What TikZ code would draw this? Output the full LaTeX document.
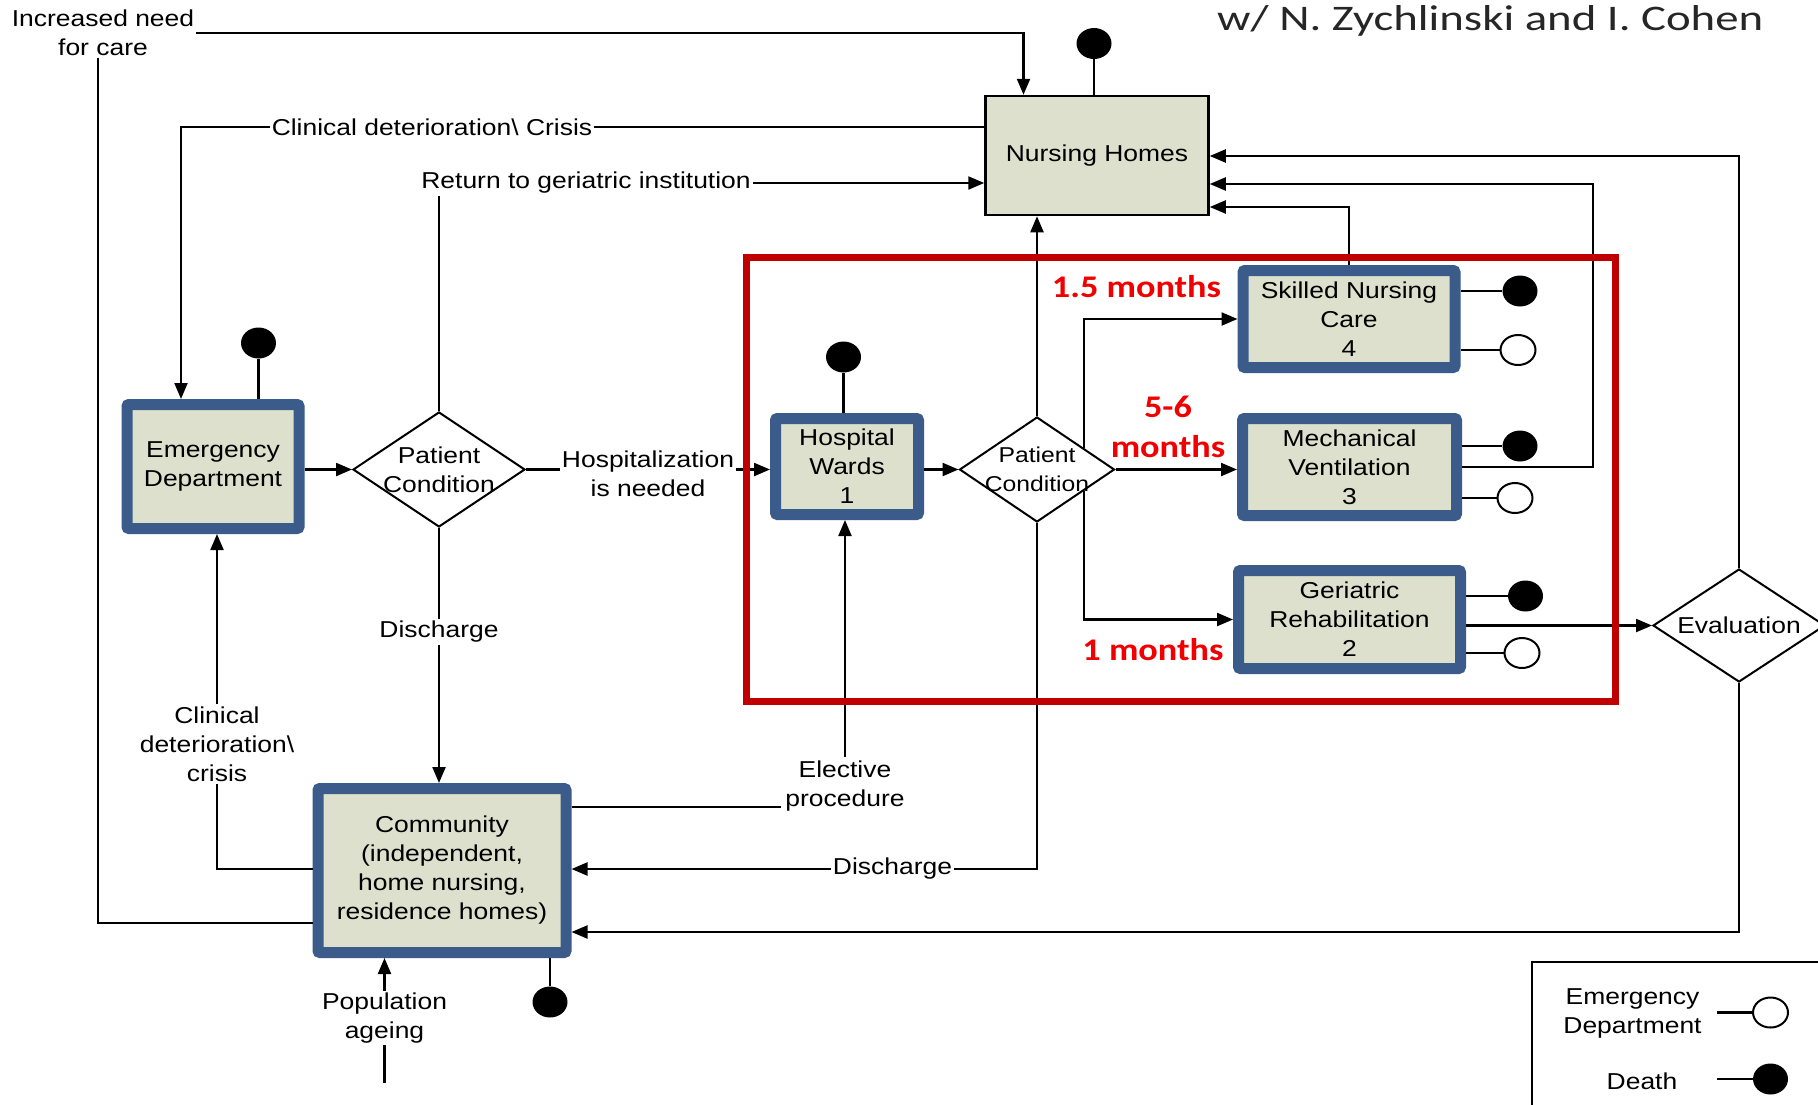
\documentclass[tikz,border=0pt]{standalone}
\usepackage{fontspec}
\setmainfont{Liberation Sans}[FakeStretch=1.15]
\newfontfamily\calib{Carlito}[FakeStretch=1.15]
\newfontfamily\calibt{Carlito}[FakeStretch=1.3]
\usetikzlibrary{arrows.meta,shapes.geometric}
\definecolor{boxblue}{RGB}{59,92,138}
\definecolor{boxfill}{RGB}{221,224,204}
\definecolor{framered}{RGB}{192,0,0}
\definecolor{monthred}{RGB}{240,0,0}
\newcommand\dfont{\fontsize{23}{29}\selectfont}

\begin{document}
\begin{tikzpicture}[x=1pt,y=-1pt,
  conn/.style={line width=2.2pt, draw=black},
  arr/.style={conn, -{Triangle[length=16pt,width=13pt]}},
  txt/.style={font=\dfont, align=center, inner sep=2pt},
  bluebox/.style={draw=boxblue, line width=11pt, fill=boxfill, rounded corners=2pt,
    inner sep=0pt, align=center, font=\dfont},
  plainbox/.style={draw=black, line width=2.5pt, fill=boxfill, inner sep=0pt, font=\dfont},
  decision/.style={diamond, draw=black, line width=2pt, fill=white, inner sep=0pt},
  death/.style={ellipse, fill=black, minimum width=35pt, minimum height=31pt, inner sep=0pt},
  toed/.style={ellipse, draw=black, line width=2pt, fill=white, minimum width=35pt,
    minimum height=30pt, inner sep=0pt},
  months/.style={text=monthred, font=\calib\bfseries\fontsize{31.5}{40}\selectfont,
    align=center, inner sep=0pt}
]
\fill[white] (0,0) rectangle (1818,1104);
\useasboundingbox (0,0) rectangle (1818,1104);

% title
\node[anchor=base west, font=\calibt\fontsize{36}{40}\selectfont, inner sep=0pt, text=black!85]
  (title) at (1217,30) {w/ N. Zychlinski and I. Cohen};

% care settings
\node[plainbox, minimum width=223pt, minimum height=119pt] (nh) at (1097,155.5) {Nursing Homes};
\node[bluebox, minimum width=172pt, minimum height=124pt] (ed) at (213,466.5) {Emergency\\Department};
\node[bluebox, minimum width=143pt, minimum height=96pt] (hw) at (847,466.5) {Hospital\\Wards\\1};
\node[bluebox, minimum width=212pt, minimum height=97pt] (snc) at (1349,319) {Skilled Nursing\\Care\\4};
\node[bluebox, minimum width=214pt, minimum height=97pt] (mv) at (1349.5,467) {Mechanical\\Ventilation\\3};
\node[bluebox, minimum width=222pt, minimum height=98pt] (gr) at (1349.5,619.5) {Geriatric\\Rehabilitation\\2};
\node[bluebox, minimum width=248pt, minimum height=164pt] (comm) at (442,870.5)
  {Community\\(independent,\\home nursing,\\residence homes)};

% decisions
\node[decision, minimum width=172pt, minimum height=115pt] (pc1) at (439,469.5) {};
\node[txt] (pc1t) at (pc1) {Patient\\Condition};
\node[decision, minimum width=155pt, minimum height=105pt] (pc2) at (1037,469.5) {};
\node[txt, font=\fontsize{21.5}{29}\selectfont] (pc2t) at (pc2) {Patient\\Condition};
\node[decision, minimum width=172pt, minimum height=113pt] (ev) at (1739,625.5) {};
\node[txt] (evt) at (ev) {Evaluation};

% flow labels
\node[txt] (incr) at (103,32.5) {Increased need\\for care};
\node[txt] (cdc) at (432,127) {Clinical deterioration\textbackslash{} Crisis};
\node[txt] (rtg) at (586,183) {Return to geriatric institution};
\node[txt] (hosp) at (648,473.5) {Hospitalization\\is needed};
\node[txt] (dis1) at (439,632) {Discharge};
\node[txt] (cdc2) at (217,744) {Clinical\\deterioration\textbackslash\\crisis};
\node[txt, inner sep=4pt] (elec) at (845,786) {Elective\\procedure};
\node[txt] (dis2) at (892.5,869) {Discharge};
\node[txt] (pop) at (384.5,1018) {Population\\ageing};
\coordinate (popbase) at (384.5,1083);

% exits: death and return to the emergency department
\node[death] (dnh) at (1094,43.5) {};
\node[death] (ded) at (258.5,343) {};
\node[death] (dhw) at (843.5,357) {};
\node[death] (dcomm) at (550,1002) {};
\node[death] (dsnc) at (1520,291) {};
\node[toed] (esnc) at (1518,350) {};
\node[death] (dmv) at (1520,446) {};
\node[toed] (emv) at (1515,498) {};
\node[death] (dgr) at (1525.5,596) {};
\node[toed] (egr) at (1522,653) {};

\draw[conn] (dnh) -- (dnh |- nh.north);
\draw[conn] (ded) -- (ded |- ed.north);
\draw[conn] (dhw) -- (dhw |- hw.north);
\draw[conn] (dcomm) -- (dcomm |- comm.south);
\draw[conn] (dsnc) -- (dsnc -| snc.east);
\draw[conn] (esnc) -- (esnc -| snc.east);
\draw[conn] (dmv) -- (dmv -| mv.east);
\draw[conn] (emv) -- (emv -| mv.east);
\draw[conn] (dgr) -- (dgr -| gr.east);
\draw[conn] (egr) -- (egr -| gr.east);

% connectors
\draw[conn] (comm.west |- 0,923) -| (incr.south -| 98,0);
\draw[arr] (incr.east |- 0,33) -| (nh.north -| 1023.5,0);
\draw[conn] (nh.west |- 0,127) -- (cdc.east);
\draw[arr] (cdc.west) -| (ed.north -| 181,0);
\draw[conn] (pc1.north) -- (pc1.north |- rtg.south);
\draw[arr] (rtg.east) -- (nh.west |- rtg.east);
\draw[arr] (pc1.west -| ed.east) -- (pc1.west);
\draw[conn] (pc1.east) -- (hosp.west |- pc1.east);
\draw[arr] (hosp.east |- pc1.east) -- (hw.west |- pc1.east);
\draw[arr] (hw.east |- pc2.west) -- (pc2.west);
\draw[arr] (pc2.north) -- (pc2.north |- nh.south);
\draw[arr] (pc2.25) |- (snc.west);
\draw[arr] (pc2.east) -- (mv.west |- pc2.east);
\draw[arr] (pc2.-25) |- (gr.west);
\draw[conn] (pc2.south) |- (dis2.east);
\draw[arr] (dis2.west) -- (comm.east |- dis2.west);
\draw[conn] (pc1.south) -- (pc1.south |- dis1.north);
\draw[arr] (pc1.south |- dis1.south) -- (pc1.south |- comm.north);
\draw[conn] (comm.west |- 0,869) -| (cdc2.south);
\draw[arr] (cdc2.north) -- (cdc2.north |- ed.south);
\draw[conn] (comm.east |- 0,807) -- (elec.west |- 0,807);
\draw[arr] (elec.north) -- (elec.north |- hw.south);
\draw[arr] (snc.north) |- (nh.east |- 0,207);
\draw[arr] (mv.east) -| (1593,184) -- (nh.east |- 0,184);
\draw[arr] (ev.north) |- (nh.east |- 0,156);
\draw[arr] (ev.south) |- (comm.east |- 0,932);
\draw[arr] (gr.east |- ev.west) -- (ev.west);
\draw[arr] (pop.north) -- (pop.north |- comm.south);
\draw[conn] (popbase) -- (pop.south);

% hospital frame and lengths of stay
\draw[framered, line width=7pt] (746,257) rectangle (1615,701);
\node[months] (m15) at (1136.5,287) {1.5 months};
\node[months] (m56) at (1168,427) {5-6\\months};
\node[months] (m1) at (1153,650) {1 months};

% legend
\draw[line width=2pt] (1532,962) rectangle (1850,1130);
\node[txt] (lged) at (1632.5,1013.5) {Emergency\\Department};
\node[toed] (lgedc) at (1770.5,1012.5) {};
\coordinate (lgedl) at (1717,1012.5);
\draw[conn] (lgedl) -- (lgedc);
\node[txt] (lgd) at (1642,1081) {Death};
\node[death] (lgdd) at (1770.5,1079) {};
\coordinate (lgdl) at (1717,1079);
\draw[conn] (lgdl) -- (lgdd);
\end{tikzpicture}
\end{document}
